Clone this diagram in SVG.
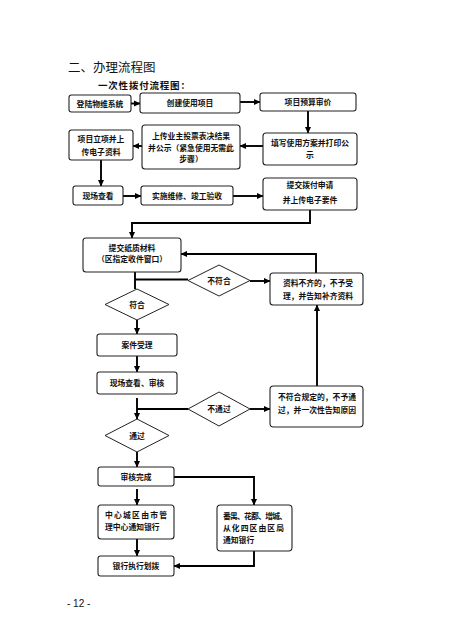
<svg xmlns="http://www.w3.org/2000/svg" width="452" height="640" viewBox="0 0 452 640">
<defs>
<marker id="ah" markerUnits="userSpaceOnUse" markerWidth="7" markerHeight="7" refX="6" refY="3.5" orient="auto">
<path d="M0,0.5 L6.5,3.5 L0,6.5 z" fill="#000"/>
</marker>
<style>
.b{fill:#fff;stroke:#222;stroke-width:1.1}
.d{fill:#fff;stroke:#222;stroke-width:1}
.t{font-family:"Noto Sans CJK SC","Noto Sans CJK JP",sans-serif;font-size:7.8px;font-weight:bold;fill:#111}
.c{text-anchor:middle}
.ln{fill:none;stroke:#000;stroke-width:1.9}
.ar{fill:none;stroke:#000;stroke-width:1.9;marker-end:url(#ah)}
</style>
</defs>
<rect width="452" height="640" fill="#fff"/>
<text x="68" y="72" style="font-family:'Noto Sans CJK SC',sans-serif;font-size:12.5px;fill:#111">二、办理流程图</text>
<text x="98" y="89" style="font-family:'Noto Sans CJK SC',sans-serif;font-size:9.5px;font-weight:bold;letter-spacing:0.8px;fill:#111">一次性拨付流程图：</text>

<g id="connectors">
<line class="ar" x1="131" y1="103.5" x2="140" y2="103.5"/>
<line class="ar" x1="240" y1="102" x2="260" y2="102"/>
<line class="ar" x1="308" y1="111" x2="308" y2="133"/>
<line class="ar" x1="263" y1="146" x2="240" y2="146"/>
<line class="ar" x1="142" y1="146" x2="133" y2="146"/>
<line class="ar" x1="101" y1="160" x2="101" y2="186"/>
<line class="ar" x1="123" y1="196" x2="141" y2="196"/>
<line class="ar" x1="233" y1="196" x2="263" y2="196"/>
<polyline class="ar" points="310,210 310,223 132,223 132,238"/>
<polyline class="ar" points="316,273 316,254 181,254"/>
<line class="ln" x1="135" y1="272" x2="135" y2="289"/>
<line class="ln" x1="135" y1="279.5" x2="188" y2="279.5"/>
<line class="ar" x1="250" y1="281" x2="270" y2="281"/>
<line class="ar" x1="137" y1="320" x2="137" y2="334"/>
<line class="ar" x1="137" y1="356" x2="137" y2="372"/>
<line class="ar" x1="137" y1="398" x2="137" y2="419"/>
<line class="ln" x1="137" y1="409" x2="188" y2="409"/>
<line class="ar" x1="250" y1="409" x2="270" y2="409"/>
<line class="ar" x1="317" y1="386" x2="317" y2="305"/>
<line class="ar" x1="137" y1="452" x2="137" y2="467"/>
<polyline class="ar" points="174,477 254,477 254,505"/>
<line class="ar" x1="137" y1="489" x2="137" y2="505"/>
<line class="ar" x1="137" y1="539" x2="137" y2="556"/>
<polyline class="ar" points="254,551 254,566 174,566"/>
</g>

<g id="n1"><rect class="b" x="69" y="95" width="62" height="17" rx="2.5"/><text class="t c" x="100" y="106.5">登陆物维系统</text></g>
<g id="n2"><rect class="b" x="140" y="93" width="100" height="20" rx="2.5"/><text class="t c" x="190" y="106">创建使用项目</text></g>
<g id="n3"><rect class="b" x="260" y="93" width="96" height="18" rx="2.5"/><text class="t c" x="308" y="105">项目预算审价</text></g>
<g id="n4"><rect class="b" x="263" y="133" width="94" height="32" rx="3"/><text class="t c" x="310" y="146">填写使用方案并打印公</text><text class="t c" x="310" y="158">示</text></g>
<g id="n5"><rect class="b" x="142" y="125" width="98" height="44" rx="3"/><text class="t c" x="191" y="139">上传业主投票表决结果</text><text class="t c" x="191" y="151">并公示（紧急使用无需此</text><text class="t c" x="191" y="162">步骤）</text></g>
<g id="n6"><rect class="b" x="69" y="130" width="64" height="30" rx="2.5"/><text class="t c" x="101" y="142">项目立项并上</text><text class="t c" x="101" y="155">传电子资料</text></g>
<g id="n7"><rect class="b" x="73" y="186" width="50" height="19" rx="2.5"/><text class="t c" x="98" y="198.5">现场查看</text></g>
<g id="n8"><rect class="b" x="141" y="186" width="92" height="19" rx="2.5"/><text class="t c" x="187" y="198.5">实施维修、竣工验收</text></g>
<g id="n9"><rect class="b" x="263" y="178" width="94" height="32" rx="3"/><text class="t c" x="310" y="188">提交拨付申请</text><text class="t c" x="310" y="203">并上传电子要件</text></g>
<g id="n10"><rect class="b" x="83" y="238" width="98" height="34" rx="3"/><text class="t c" x="132" y="250.5">提交纸质材料</text><text class="t c" x="132" y="262">（区指定收件窗口）</text></g>
<g id="n11"><rect class="b" x="270" y="273" width="93" height="32" rx="3"/><text class="t c" x="318" y="286">资料不齐的，不予受</text><text class="t c" x="318" y="299">理，并告知补齐资料</text></g>
<g id="d1"><polygon class="d" points="188,280.5 219,265 250,280.5 219,296"/><text class="t c" x="219" y="283.5">不符合</text></g>
<g id="d2"><polygon class="d" points="105,304.5 137,289 169,304.5 137,320"/><text class="t c" x="137" y="307.5">符合</text></g>
<g id="n12"><rect class="b" x="97" y="334" width="80" height="22" rx="2.5"/><text class="t c" x="137" y="347.5">案件受理</text></g>
<g id="n13"><rect class="b" x="97" y="372" width="80" height="22" rx="2.5"/><text class="t c" x="137" y="385.5">现场查看、审核</text></g>
<g id="d3"><polygon class="d" points="188,409 219,392 250,409 219,426"/><text class="t c" x="219" y="412">不通过</text></g>
<g id="n14"><rect class="b" x="270" y="386" width="93" height="41" rx="3.5"/><text class="t c" x="317" y="400">不符合规定的，不予通</text><text class="t c" x="317" y="413">过，并一次性告知原因</text></g>
<g id="d4"><polygon class="d" points="105,435.5 137,419 169,435.5 137,452"/><text class="t c" x="137" y="438.5">通过</text></g>
<g id="n15"><rect class="b" x="98" y="467" width="76" height="19" rx="2.5"/><text class="t c" x="136" y="479.5">审核完成</text></g>
<g id="n16"><rect class="b" x="98" y="505" width="76" height="34" rx="3"/><text class="t" x="105" y="518" textLength="62">中心城区由市管</text><text class="t" x="105" y="530">理中心通知银行</text></g>
<g id="n17"><rect class="b" x="217" y="505" width="75" height="46" rx="3.5"/><text class="t" x="223" y="519" textLength="64">番禺、花都、增城、</text><text class="t" x="223" y="531" textLength="61">从化四区由区局</text><text class="t" x="223" y="542.5">通知银行</text></g>
<g id="n18"><rect class="b" x="98" y="556" width="76" height="20" rx="2.5"/><text class="t c" x="136" y="569">银行执行划拨</text></g>

<text x="67" y="607" style="font-family:'Liberation Sans',sans-serif;font-size:10px;fill:#111">- 12 -</text>
</svg>
